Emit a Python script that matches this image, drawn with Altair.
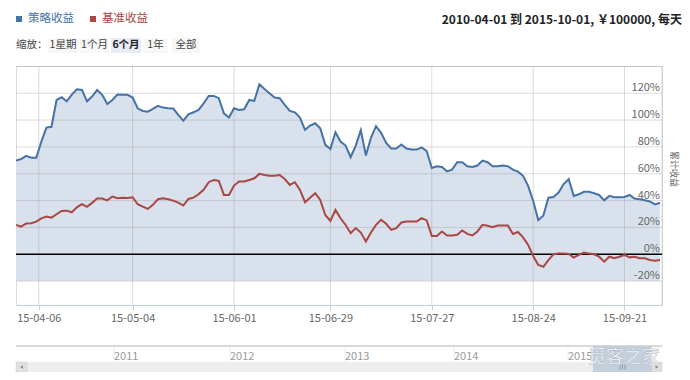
import altair as alt
import pandas as pd

# ---------------- data ----------------
strategy = [69.8, 71, 73.3, 72, 72, 84, 94.4, 95, 115, 117,
            114, 119, 123, 122.5, 114, 117.5, 122.5, 118.8, 112, 115,
            119, 118.8, 118.8, 116.8, 108.8, 106.8, 106.3, 108.3, 110.6, 109.3,
            108.8, 108.6, 103.9, 99.6, 104.3, 105.8, 107.6, 112.5, 118, 118,
            116.3, 105, 101.9, 108.8, 107.6, 108, 115, 114.3, 126.7, 123.2,
            120, 116.8, 116.3, 111.3, 106.8, 105.8, 101.9, 92.7, 95.9, 97.6,
            93.9, 81.5, 78.5, 90.9, 84, 81, 72.3, 81, 92.5, 73.6,
            86.8, 95.5, 90.5, 83, 78.8, 78.8, 81.8, 78.8, 78, 78,
            79.6, 76.8, 64.3, 65.6, 65.1, 61.8, 63.1, 68.6, 68.6, 65.6,
            65.1, 66.1, 69.8, 68.6, 65.6, 65.6, 66.1, 65.6, 63.1, 61.6,
            58.5, 51, 39.7, 25.4, 28.9, 42.2, 42.7, 46, 52.3, 56,
            43.5, 44.7, 46.5, 46.5, 45.5, 44.2, 40.2, 43.5, 42.5, 42.5,
            42.7, 44.2, 41.5, 41, 40.2, 39.4, 37.2, 38.4]

benchmark = [21.9, 20.6, 22.9, 23.1, 24.3, 26.8, 28.1, 27.3, 29.8, 32.3,
             32.5, 31.3, 35, 37.3, 35.3, 38.3, 41.5, 41.5, 40.2, 43,
             41.7, 42.2, 42, 42.5, 37.3, 35.5, 33.8, 36.8, 41, 41.7,
             41, 40, 38.5, 36.3, 41.2, 42.2, 44.7, 48, 53.7, 55.4,
             54.7, 44.2, 44.2, 51.2, 54.2, 54.2, 55.4, 56.6, 59.9, 59.1,
             58.6, 58.6, 59.1, 56.1, 51.7, 53.7, 48, 38.8, 42.2, 45.5,
             40.5, 29.3, 24.8, 33, 26.8, 21.8, 15.7, 19.5, 16.2, 9.5,
             16.2, 21.9, 25.7, 22.7, 18.2, 19.5, 23.7, 24.4, 24.4, 24.4,
             26.9, 25.2, 13.7, 13.7, 17, 14, 14, 14.5, 17.7, 15.2,
             14, 17, 21.9, 21.2, 20.2, 21.4, 21.4, 21.4, 15.1, 16.6,
             12.6, 7, -1.3, -8, -9.3, -4.3, 0, 0.5, 0.5, 0.3,
             -2.5, -0.5, 1.3, 0.5, 0, -1.8, -5.5, -1.8, -3, -1.8,
             -0.5, -2.3, -1.8, -3, -3, -4.3, -4.8, -4.3]

tick_idx = [4.5, 23, 43, 62, 82, 102, 120]
tick_labels = ["15-04-06", "15-05-04", "15-06-01", "15-06-29",
               "15-07-27", "15-08-24", "15-09-21"]
y_grid = [-20, 0, 20, 40, 60, 80, 100, 120, 140]
y_label_vals = [-20, 0, 20, 40, 60, 80, 100, 120]
years = ["2011", "2012", "2013", "2014", "2015"]
buttons = ["1星期", "1个月", "6个月", "1年", "全部"]
series_names = ["策略收益", "基准收益"]
header = "2010-04-01 到 2015-10-01, ￥100000, 每天"
y_title = "累计收益"

# ---------------- chart ----------------
FONT = "Noto Sans CJK SC"
BLUE = "#4572A7"
RED = "#AA4643"
W, H = 646, 239

df = pd.DataFrame({"idx": list(range(len(strategy))),
                   "strategy": strategy, "benchmark": benchmark})
one = pd.DataFrame({"a": [0]})

xs = alt.Scale(domain=[0, 127.4], nice=False, zero=False)
ys = alt.Scale(domain=[-37.8, 140.3], nice=False, zero=False)

label_expr = " : ".join(f"datum.value == {v} ? '{l}'" for v, l in zip(tick_idx, tick_labels)) + " : ''"
xaxis = alt.Axis(values=tick_idx, labelExpr=label_expr, grid=False, title=None,
                 domainColor="#C0D0E0", tickColor="#C0D0E0", tickSize=5,
                 labelColor="#666666", labelFontSize=11, labelFont=FONT,
                 labelPadding=2, labelFlush=False, labelOverlap=False)


def X(field):
    return alt.X(field, scale=xs, axis=xaxis)


def txt(s, x, y, **kw):
    return alt.Chart(pd.DataFrame({"t": [s]})).mark_text(font=FONT, **kw).encode(
        x=alt.value(x), y=alt.value(y), text="t:N")


def rect(x0, x1, y0, y1, **kw):
    return alt.Chart(one).mark_rect(**kw).encode(
        x=alt.value(x0), x2=alt.value(x1), y=alt.value(y0), y2=alt.value(y1))


def hrule(x0, x1, y, **kw):
    return alt.Chart(one).mark_rule(**kw).encode(
        x=alt.value(x0), x2=alt.value(x1), y=alt.value(y))


def vrule(x, y0, y1, **kw):
    return alt.Chart(one).mark_rule(**kw).encode(
        x=alt.value(x), y=alt.value(y0), y2=alt.value(y1))


layers = []

area = alt.Chart(df).mark_area(color="#d9e1ec", opacity=1).encode(
    x=X("idx:Q"),
    y=alt.Y("strategy:Q", scale=ys, axis=None),
    y2=alt.datum(-20))
layers.append(area)

layers.append(alt.Chart(pd.DataFrame({"v": y_grid})).mark_rule(color="#999999", opacity=0.35).encode(
    y=alt.Y("v:Q", scale=ys, axis=None)))
layers.append(alt.Chart(pd.DataFrame({"p": tick_idx})).mark_rule(color="#999999", opacity=0.35).encode(
    x=X("p:Q"), y=alt.value(0), y2=alt.value(H)))
layers.append(vrule(W, 0, H, color="#999999", opacity=0.35))

layers.append(alt.Chart(pd.DataFrame({"v": [0]})).mark_rule(color="#000000", strokeWidth=1.5).encode(
    y=alt.Y("v:Q", scale=ys, axis=None)))

layers.append(alt.Chart(df).mark_line(color=RED, strokeWidth=2).encode(
    x=X("idx:Q"),
    y=alt.Y("benchmark:Q", scale=ys, axis=None)))
layers.append(alt.Chart(df).mark_line(color=BLUE, strokeWidth=2).encode(
    x=X("idx:Q"),
    y=alt.Y("strategy:Q", scale=ys, axis=None)))

# y labels inside right edge
layers.append(alt.Chart(pd.DataFrame({"v": y_label_vals})).transform_calculate(
    t="datum.v + '%'").mark_text(align="right", baseline="middle", dy=-5, fontSize=11,
                                 color="#666666", font=FONT).encode(
    y=alt.Y("v:Q", scale=ys, axis=None), x=alt.value(644), text="t:N"))

# y title
layers.append(txt(y_title, 658, 103, angle=90, fontSize=9, color="#666666",
                  align="center", baseline="middle"))

# legend
layers.append(rect(0, 6, -50, -44, color=BLUE))
layers.append(txt(series_names[0], 12, -47, align="left", baseline="middle", fontSize=11.5, color=BLUE))
layers.append(rect(74, 80, -50, -44, color=RED))
layers.append(txt(series_names[1], 86, -47, align="left", baseline="middle", fontSize=11.5, color=RED))

# header
layers.append(txt(header, 666, -46, align="right", baseline="middle", fontSize=12,
                  fontWeight="bold", color="#222222"))

# zoom buttons
layers.append(txt("缩放：", 0, -21, align="left", baseline="middle", fontSize=10.5, color="#444444"))
btn_x = [(32, 62), (64, 93), (95, 125), (127, 152), (156, 184)]
for i, (b, (x0, x1)) in enumerate(zip(buttons, btn_x)):
    sel = (i == 2)
    layers.append(rect(x0, x1, -28, -13, color="#e6ebf5" if sel else "#f7f7f7"))
    layers.append(txt(b, (x0 + x1) / 2, -21, align="center", baseline="middle", fontSize=10.5,
                      color="#222222" if sel else "#444444",
                      fontWeight="bold" if sel else "normal"))

# navigator
layers.append(hrule(0, W, 280, color="#b2b2b2"))
year_x = [98, 214, 329, 438, 552]
for yx, yl in zip(year_x, years):
    layers.append(vrule(yx, 281, 296, color="#eeeeee"))
    layers.append(txt(yl, yx, 291, align="left", baseline="middle", fontSize=11, color="#999999"))
layers.append(rect(0, W, 296, 306, color="#eeeeee"))
layers.append(rect(0, 11, 296, 306, color="#e0e0e0", stroke="#cccccc", strokeWidth=0.5))
layers.append(alt.Chart(one).mark_point(shape="triangle-left", filled=True, size=12, color="#666666").encode(
    x=alt.value(5.5), y=alt.value(301)))
layers.append(rect(577, 636, 280, 306, color="#c4cfdc"))
for gx in [604, 606.5, 609]:
    layers.append(vrule(gx, 298.5, 303.5, color="#8899aa"))
layers.append(rect(636, W, 296, 306, color="#e0e0e0", stroke="#cccccc", strokeWidth=0.5))
layers.append(alt.Chart(one).mark_point(shape="triangle-right", filled=True, size=12, color="#666666").encode(
    x=alt.value(641), y=alt.value(301)))

# watermark
layers.append(txt("觅客之家", 572, 292, align="left", baseline="middle", fontSize=18,
                  color="#ffffff", stroke="#aab4c0", strokeWidth=0.4))

chart = alt.layer(*layers).properties(
    width=W, height=H,
    padding={"left": 8, "top": 58, "right": 20, "bottom": 67},
    autosize=alt.AutoSizeParams(type="none"),
).configure_view(stroke=None).configure(background="white")

chart.save("out.html", embed_options={"renderer": "svg", "actions": False})
